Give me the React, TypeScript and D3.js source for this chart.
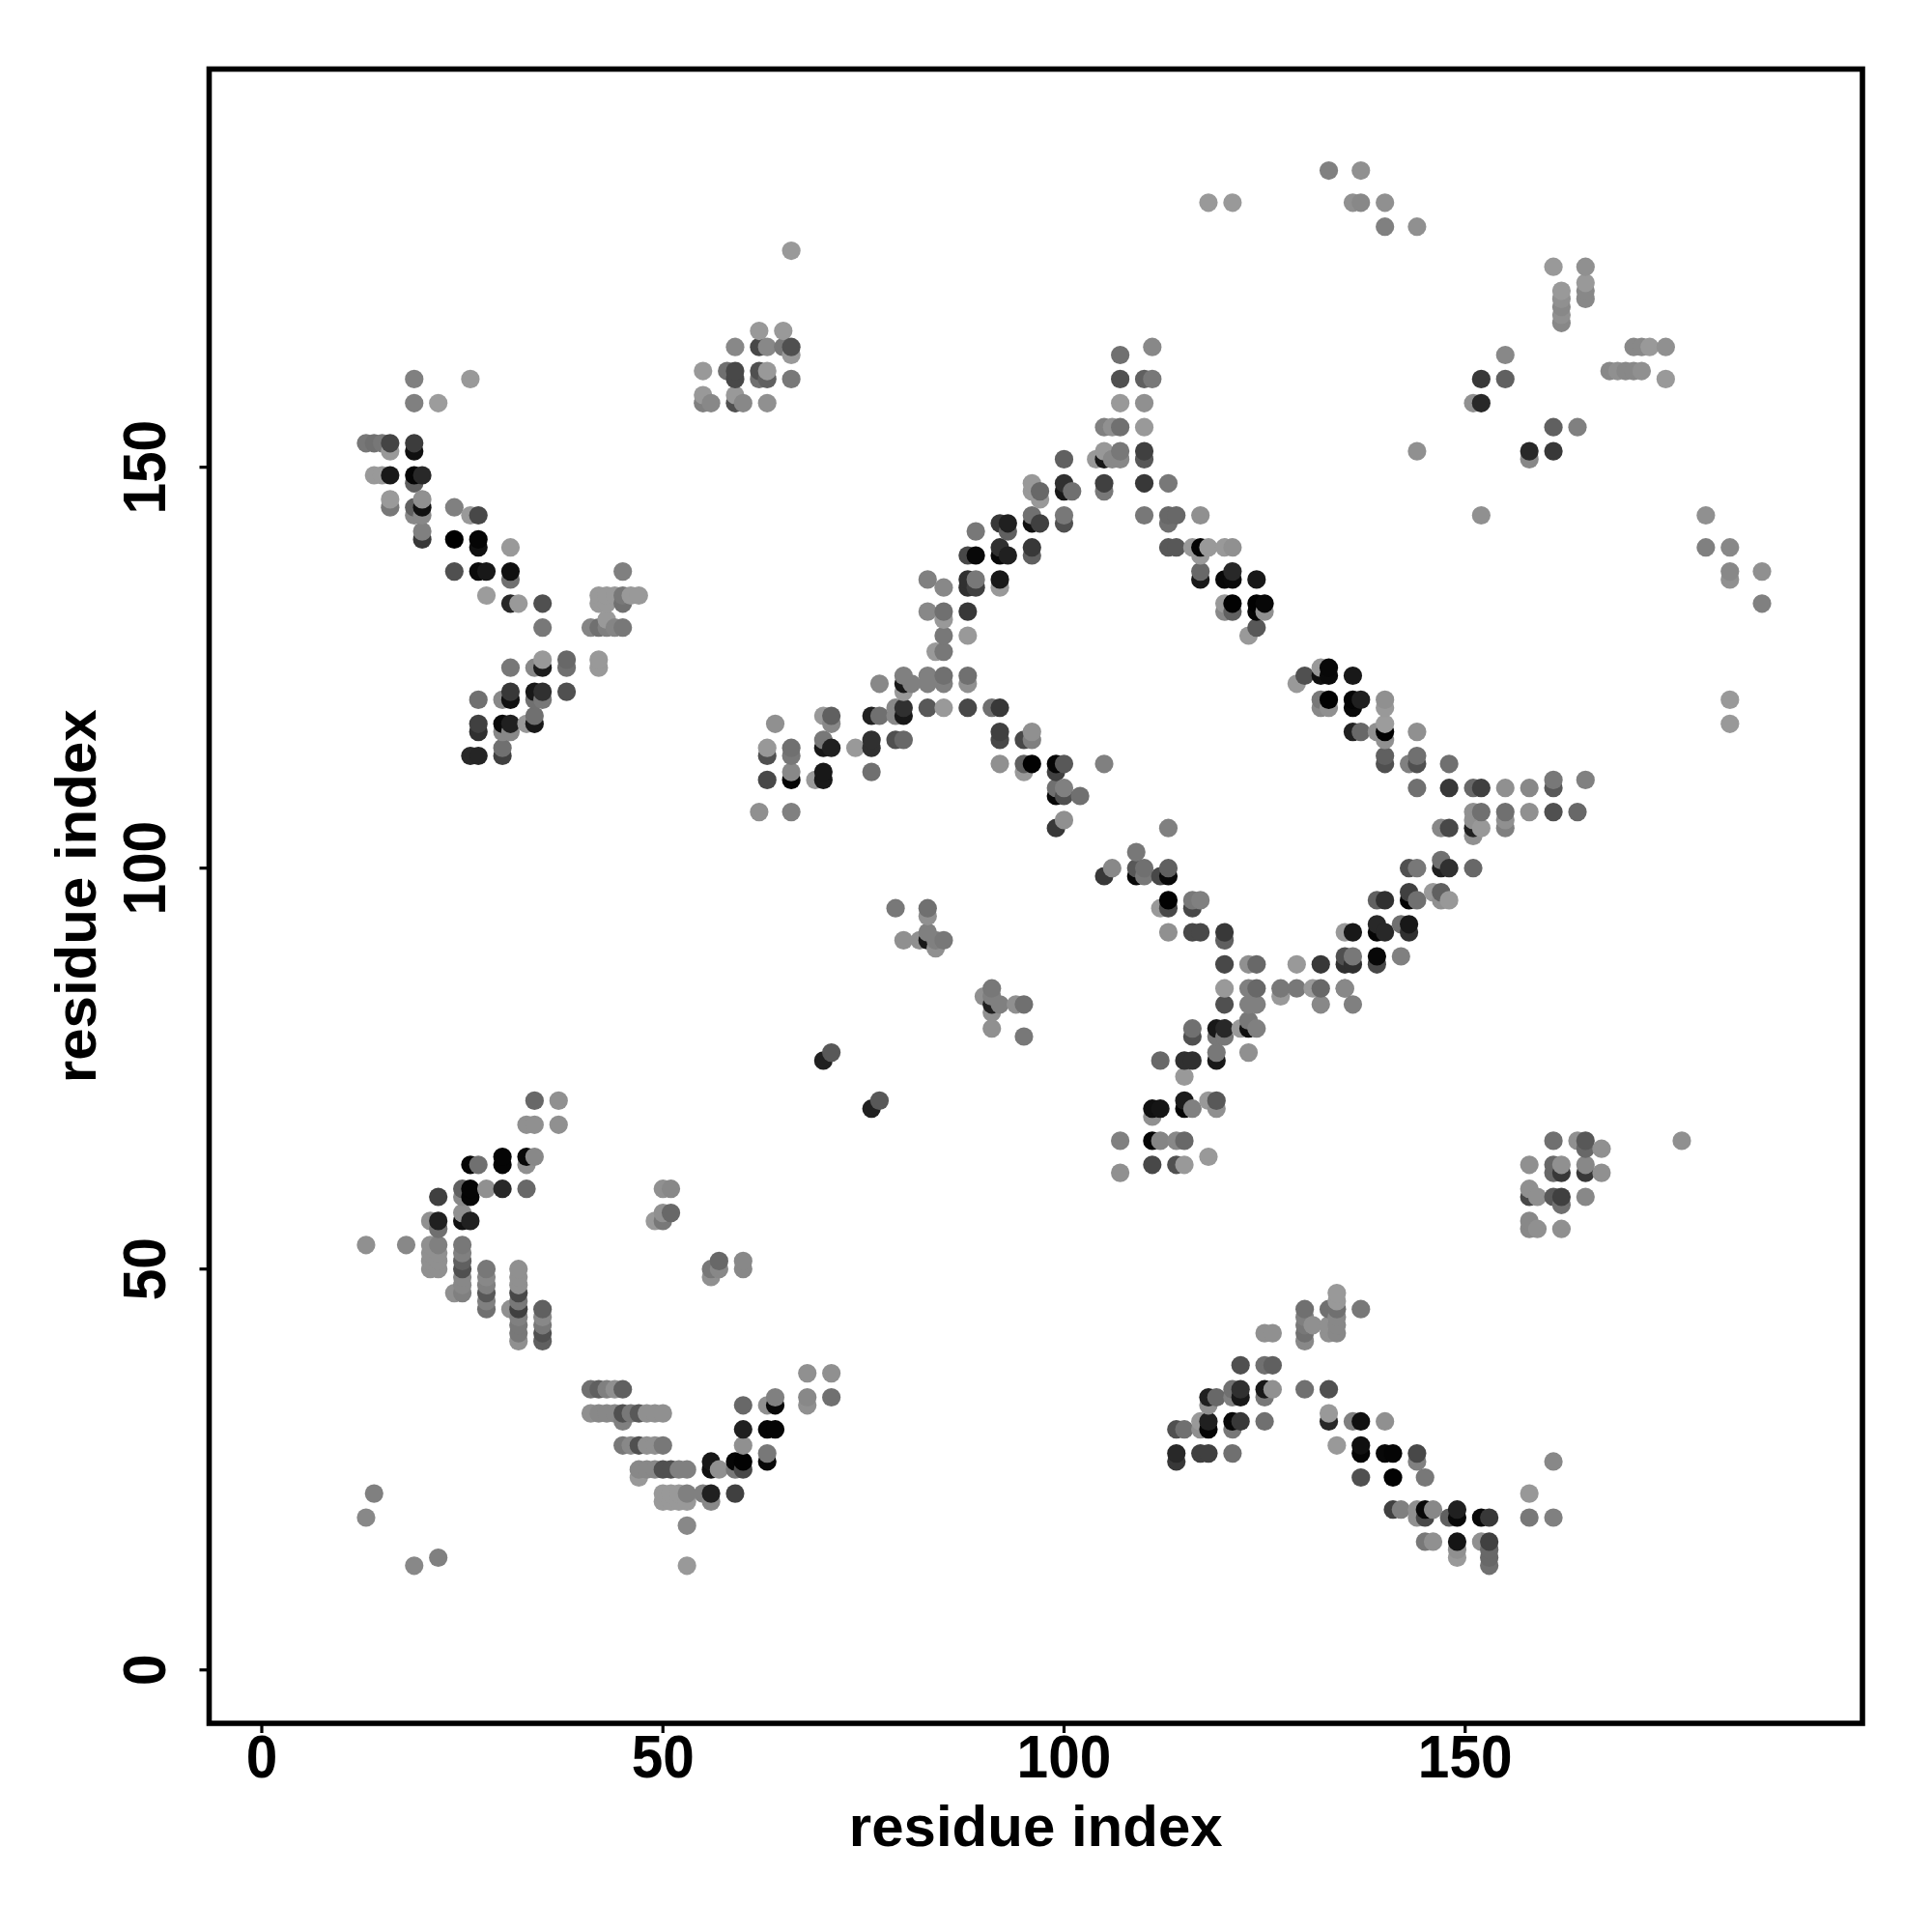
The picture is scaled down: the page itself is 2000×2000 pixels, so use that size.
import React from "react";
import * as d3 from "d3";

type P = [number, number, number]; // residue i, residue j, shade byte

const contactsUpperLeft: P[] = [
  [19,161,0x80],[26,161,0x99],[19,158,0x80],[22,158,0x9c],
  [13,153,0x77],[14,153,0x70],[15,153,0x77],[16,153,0x44],[19,153,0x3c],[16,152,0x99],[19,152,0x10],
  [14,149,0x99],[15,149,0x99],[16,149,0x18],[19,149,0x05],[20,149,0x28],[19,148,0x60],
  [16,146,0x9a],[20,146,0x90],[16,145,0x78],[19,145,0x60],[20,145,0x10],[24,145,0x80],
  [19,144,0x88],[20,144,0x88],[26,144,0x99],[27,144,0x48],[20,142,0x80],[20,141,0x38],[24,141,0x00],[27,141,0x05],[27,140,0x10],[31,140,0x99],
  [24,137,0x50],[27,137,0x0a],[28,137,0x18],[31,137,0x10],[45,137,0x80],[31,136,0x70],
  [28,134,0x9c],[42,134,0x99],[43,134,0x99],[44,134,0x99],[45,134,0x78],[46,134,0x99],[47,134,0x99],
  [31,133,0x28],[32,133,0x99],[35,133,0x50],[42,133,0x99],[43,133,0x99],[45,133,0x70],
  [43,131,0x99],[35,130,0x78],[41,130,0x85],[42,130,0x70],[43,130,0x80],[44,130,0x85],[45,130,0x78],
  [35,126,0x99],[38,126,0x68],[42,126,0x99],[31,125,0x78],[34,125,0x88],[35,125,0x1c],[38,125,0x70],[42,125,0x99],
  [31,122,0x38],[34,122,0x18],[35,122,0x30],[38,122,0x50],
  [27,121,0x70],[30,121,0x88],[31,121,0x10],[34,121,0x70],[35,121,0x78],[34,119,0x70],
  [27,118,0x40],[30,118,0x0a],[31,118,0x20],[33,118,0x99],[34,118,0x18],
  [27,117,0x30],[30,117,0x88],[31,117,0x88],[30,115,0x70],[26,114,0x28],[27,114,0x25],[30,114,0x40],
];

const contactsTopMiddle: P[] = [
  [66,177,0x99],[62,167,0x99],[65,167,0x99],[59,165,0x88],[62,165,0x48],[63,165,0x88],[65,165,0x78],[66,165,0x50],[66,164,0x99],
  [55,162,0x99],[58,162,0x70],[59,162,0x48],[62,162,0x50],[63,162,0x99],[59,161,0x48],[62,161,0x70],[63,161,0x60],[66,161,0x78],
  [55,159,0x99],[59,159,0x99],[55,158,0x80],[56,158,0x88],[59,158,0x50],[60,158,0x88],[63,158,0x90],
];

const contactsCentralLeftArm: P[] = [
  [100,151,0x60],[100,148,0x30],[96,148,0x99],[96,147,0x99],[97,147,0x68],[100,147,0x18],[101,147,0x70],[97,146,0x99],
  [96,144,0x70],[100,144,0x78],[92,143,0x38],[93,143,0x20],[96,143,0x10],[97,143,0x40],[100,143,0x50],[89,142,0x78],[93,142,0x60],
  [92,140,0x30],[96,140,0x38],[88,139,0x48],[89,139,0x08],[92,139,0x08],[93,139,0x20],[96,139,0x60],
  [83,136,0x80],[88,136,0x30],[89,136,0x78],[92,136,0x18],[85,135,0x88],[88,135,0x30],[89,135,0x40],[92,135,0x99],
  [83,132,0x88],[85,132,0x70],[88,132,0x38],[85,131,0x99],[85,129,0x78],[88,129,0x99],[84,127,0x99],[85,127,0x78],
  [80,124,0x80],[83,124,0x80],[85,124,0x70],[88,124,0x70],[77,123,0x88],[80,123,0x18],[81,123,0x80],[83,123,0x80],[85,123,0x80],[88,123,0x90],[80,122,0x99],
  [79,120,0x88],[80,120,0x30],[83,120,0x58],[85,120,0x99],[88,120,0x48],[91,120,0x70],[92,120,0x38],
  [70,119,0x99],[71,119,0x60],[76,119,0x20],[77,119,0x70],[79,119,0x88],[80,119,0x18],[64,118,0x90],[71,118,0x88],
  [92,117,0x40],[96,117,0x90],[70,116,0x78],[76,116,0x30],[79,116,0x50],[80,116,0x68],[92,116,0x48],[95,116,0x48],[96,116,0x80],
  [63,115,0x98],[66,115,0x70],[70,115,0x18],[71,115,0x20],[74,115,0x99],[76,115,0x30],[63,114,0x50],[66,114,0x78],
  [92,113,0x90],[95,113,0x60],[96,113,0x02],[99,113,0x05],[100,113,0x58],[105,113,0x80],
  [66,112,0x88],[70,112,0x18],[76,112,0x70],[95,112,0x99],[99,112,0x40],[63,111,0x48],[66,111,0x05],[69,111,0x99],[70,111,0x18],
  [99,110,0x70],[100,110,0x80],[99,109,0x08],[100,109,0x50],[102,109,0x70],[62,107,0x90],[66,107,0x80],[100,106,0x90],[99,105,0x38],
];

const contactsCentralApex: P[] = [
  [111,165,0x88],[107,164,0x70],[107,161,0x50],[110,161,0x60],[111,161,0x78],[107,158,0x99],[110,158,0x90],
  [105,155,0x80],[106,155,0x90],[107,155,0x70],[110,155,0x99],[105,152,0x98],[107,152,0x78],[110,152,0x40],
  [104,151,0x99],[105,151,0x18],[106,151,0x88],[107,151,0x88],[110,151,0x58],[105,148,0x40],[110,148,0x38],[113,148,0x78],[105,147,0x78],
  [110,144,0x78],[113,144,0x68],[114,144,0x68],[117,144,0x90],[113,143,0x70],
  [113,140,0x58],[114,140,0x58],[116,140,0x99],[117,140,0x05],[118,140,0x99],[120,140,0x99],[121,140,0x90],[117,139,0x99],
  [117,137,0x68],[121,137,0x28],[117,136,0x18],[120,136,0x08],[121,136,0x0a],[124,136,0x18],
  [120,133,0x99],[121,133,0x02],[124,133,0x02],[125,133,0x08],[120,132,0x88],[121,132,0x60],[124,132,0x05],[125,132,0x90],[124,130,0x58],[123,129,0x99],
  [132,125,0x99],[133,125,0x08],[130,124,0x50],[132,124,0x10],[133,124,0x0a],[136,124,0x18],[129,123,0x99],
  [132,121,0x78],[133,121,0x02],[136,121,0x05],[137,121,0x20],[140,121,0x90],[132,120,0x88],[133,120,0x90],[136,120,0x08],[140,120,0x99],
  [140,118,0x9c],[136,117,0x20],[137,117,0x68],[139,117,0x90],[140,117,0x02],[144,117,0x90],[140,116,0x90],
  [140,114,0x60],[144,114,0x70],[140,113,0x50],[143,113,0x80],[144,113,0x50],[148,113,0x70],
];

const contactsTopRight: P[] = [
  [133,187,0x80],[137,187,0x90],[118,183,0x99],[121,183,0x99],[136,183,0x90],[137,183,0x88],[140,183,0x90],[140,180,0x80],[144,180,0x90],
  [161,175,0x99],[165,175,0x90],[165,173,0x99],[165,172,0x88],[165,171,0x88],[162,172,0x99],[162,171,0x90],[162,170,0x88],[162,169,0x90],[162,168,0x88],
  [171,165,0x88],[172,165,0x88],[173,165,0x99],[175,165,0x90],[155,164,0x88],
  [168,162,0x88],[169,162,0x90],[170,162,0x88],[171,162,0x88],[172,162,0x90],[152,161,0x38],[155,161,0x60],[175,161,0x99],
  [151,158,0x90],[152,158,0x28],[161,155,0x60],[164,155,0x80],[144,152,0x90],[158,152,0x28],[161,152,0x38],[158,151,0x88],
  [152,144,0x90],[180,144,0x90],[180,140,0x80],[183,140,0x88],[183,137,0x88],[183,136,0x90],[187,137,0x90],[187,133,0x80],[183,121,0x99],[183,118,0x99],
];

const contactsRightBranch: P[] = [
  [144,110,0x70],[148,110,0x38],[151,110,0x68],[152,110,0x40],[155,110,0x90],[158,110,0x88],[161,110,0x58],[161,111,0x78],[165,111,0x80],
  [151,107,0x90],[152,107,0x70],[155,107,0x70],[158,107,0x90],[161,107,0x50],[164,107,0x68],[151,106,0x90],[155,106,0x90],
  [147,105,0x88],[148,105,0x48],[151,105,0x20],[152,105,0x98],[155,105,0x80],[151,104,0x90],
  [147,101,0x70],[143,100,0x50],[144,100,0x78],[147,100,0x20],[148,100,0x30],[151,100,0x68],
  [143,97,0x40],[146,97,0x99],[147,97,0x60],[139,96,0x60],[140,96,0x30],[143,96,0x05],[144,96,0x70],[147,96,0x90],[148,96,0x98],
  [139,93,0x28],[142,93,0x70],[143,93,0x18],[135,92,0x99],[136,92,0x18],[139,92,0x05],[140,92,0x28],[143,92,0x30],
  [135,89,0x50],[136,89,0x78],[139,89,0x08],[142,89,0x80],[135,88,0x30],[136,88,0x30],[139,88,0x48],[135,85,0x88],[136,83,0x80],
];

const contactsLowerCentre: P[] = [
  [113,105,0x80],[109,102,0x78],[106,100,0x88],[105,99,0x38],[109,100,0x58],[110,100,0x70],[109,99,0x08],[110,99,0x78],[112,99,0x48],[113,100,0x60],[113,99,0x08],
  [113,96,0x02],[112,95,0x99],[113,95,0x48],[116,96,0x78],[117,96,0x80],[116,95,0x48],
  [113,92,0x90],[116,92,0x48],[117,92,0x48],[120,92,0x38],[120,91,0x60],
  [120,88,0x48],[123,88,0x90],[124,88,0x68],[129,88,0x99],[132,88,0x38],
  [120,85,0x99],[123,85,0x80],[124,85,0x68],[127,85,0x78],[129,85,0x78],[131,85,0x99],[132,85,0x68],[135,85,0x88],[127,84,0x99],
  [120,83,0x50],[123,83,0x80],[124,83,0x80],[132,83,0x88],[123,81,0x78],
  [116,80,0x70],[119,80,0x18],[120,80,0x28],[122,80,0x99],[123,80,0x10],[124,80,0x80],[116,79,0x50],[119,79,0x78],[120,79,0x78],
  [119,77,0x78],[123,77,0x90],[112,76,0x68],[115,76,0x30],[116,76,0x30],[119,76,0x18],[115,74,0x99],
  [115,71,0x1c],[118,71,0x99],[119,71,0x58],[111,70,0x10],[112,70,0x15],[115,70,0x05],[116,70,0x80],[119,70,0x90],[111,69,0x90],
  [107,66,0x80],[111,66,0x05],[112,66,0x85],[114,66,0x88],[115,66,0x68],[118,64,0x99],[111,63,0x48],[114,63,0x50],[115,63,0x99],[107,62,0x90],
];

const contactsMiddleIslands: P[] = [
  [79,95,0x78],[83,95,0x70],[83,94,0x90],[83,92,0x80],[80,91,0x90],[82,91,0x90],[83,91,0x18],[84,91,0x80],[85,91,0x78],[84,90,0x90],
  [90,84,0x90],[91,85,0x78],[91,84,0x80],[91,83,0x20],[91,82,0x90],[92,83,0x80],[94,83,0x90],[95,83,0x70],[91,80,0x90],[95,79,0x78],
  [70,76,0x20],[71,77,0x58],[76,70,0x20],[77,71,0x58],
];

const contactsRightIsland: P[] = [
  [161,66,0x70],[164,66,0x90],[165,66,0x58],[165,65,0x68],[167,65,0x90],
  [158,63,0x90],[161,63,0x68],[162,63,0x90],[165,63,0x88],[161,62,0x68],[162,62,0x38],[165,62,0x38],[167,62,0x90],
  [158,60,0x90],[158,59,0x48],[159,59,0x90],[161,59,0x58],[162,59,0x40],[165,59,0x88],[162,58,0x70],
  [158,56,0x88],[158,55,0x88],[159,55,0x90],[162,55,0x90],
  [177,66,0x90],
];

const contactsLowerLeftUpper: P[] = [
  [34,71,0x68],[37,71,0x90],[33,68,0x90],[34,68,0x90],[37,68,0x90],
  [30,64,0x05],[33,64,0x08],[34,64,0x88],[26,63,0x05],[27,63,0x70],[30,63,0x05],[33,63,0x90],
  [25,60,0x60],[26,60,0x05],[28,60,0x90],[30,60,0x28],[33,60,0x68],[22,59,0x40],[25,59,0x88],[26,59,0x05],[25,57,0x90],
  [21,56,0x90],[22,56,0x20],[25,56,0x10],[26,56,0x20],[22,55,0x70],
  [13,53,0x90],[18,53,0x88],[21,53,0x90],[22,53,0x80],[25,53,0x78],[21,52,0x90],[22,52,0x90],[25,52,0x80],[21,51,0x90],[22,51,0x90],[25,51,0x60],[21,50,0x90],[22,50,0x90],[25,50,0x50],
  [25,49,0x88],[25,48,0x88],[25,47,0x80],[24,47,0x90],
  [28,50,0x78],[28,49,0x88],[28,48,0x80],[28,47,0x58],[28,46,0x80],[28,45,0x70],
  [32,50,0x90],[32,49,0x90],[32,48,0x90],[32,47,0x48],[32,46,0x78],[32,45,0x40],[32,44,0x80],[32,43,0x78],[32,42,0x78],[32,41,0x90],[31,45,0x90],
  [35,45,0x60],[35,44,0x88],[35,43,0x78],[35,42,0x50],[35,41,0x60],
  [50,60,0x90],[51,60,0x88],[50,57,0x90],[51,57,0x68],[49,56,0x99],[50,56,0x78],
  [57,51,0x68],[60,51,0x88],[56,50,0x78],[57,50,0x88],[60,50,0x88],[56,49,0x90],
];

const contactsLowerLeftBase: P[] = [
  [68,37,0x90],[71,37,0x90],[68,34,0x88],[68,33,0x90],[71,34,0x70],
  [41,35,0x70],[42,35,0x60],[43,35,0x80],[44,35,0x90],[45,35,0x60],
  [64,34,0x80],[60,33,0x68],[63,33,0x90],[64,33,0x08],
  [41,32,0x90],[42,32,0x88],[43,32,0x88],[44,32,0x88],[45,32,0x50],[46,32,0x78],[47,32,0x58],[48,32,0x90],[49,32,0x90],[50,32,0x90],[45,31,0x80],
  [60,30,0x20],[63,30,0x05],[64,30,0x05],
  [45,28,0x78],[46,28,0x88],[47,28,0x50],[48,28,0x90],[49,28,0x90],[50,28,0x78],[60,28,0x90],[63,27,0x78],
  [56,26,0x18],[59,26,0x05],[60,26,0x02],[63,26,0x08],
  [47,25,0x88],[48,25,0x88],[49,25,0x88],[50,25,0x50],[51,25,0x50],[52,25,0x80],[53,25,0x80],[56,25,0x10],[57,25,0x90],[59,25,0x78],[60,25,0x48],[47,24,0x99],
  [50,22,0x99],[51,22,0x99],[52,22,0x99],[53,22,0x80],[55,22,0x80],[56,22,0x20],[59,22,0x40],
  [50,21,0x99],[51,21,0x99],[52,21,0x99],[53,21,0x99],[56,21,0x88],[53,18,0x88],[53,13,0x99],
  [14,22,0x80],[13,19,0x88],[22,14,0x80],[19,13,0x88],
];

const contactsLowerRight: P[] = [
  [134,47,0x99],[134,46,0x99],[130,45,0x70],[133,45,0x70],[134,45,0x70],[137,45,0x78],[130,44,0x80],[134,44,0x88],
  [130,43,0x78],[131,43,0x90],[133,43,0x90],[134,43,0x88],[125,42,0x90],[126,42,0x90],[130,42,0x70],[133,42,0x90],[134,42,0x88],[130,41,0x88],
  [122,38,0x50],[125,38,0x70],[126,38,0x60],
  [121,35,0x70],[122,35,0x30],[125,35,0x18],[126,35,0x90],[130,35,0x70],[133,35,0x50],
  [118,34,0x20],[119,34,0x68],[121,34,0x80],[122,34,0x18],[125,34,0x78],[118,33,0x90],[133,32,0x99],
  [117,31,0x99],[118,31,0x20],[121,31,0x08],[122,31,0x38],[125,31,0x70],[133,31,0x28],[136,31,0x80],[137,31,0x10],[140,31,0x90],
  [114,30,0x50],[115,30,0x70],[117,30,0x90],[118,30,0x05],[121,30,0x78],
  [134,28,0x99],[137,28,0x10],[114,27,0x28],[117,27,0x40],[118,27,0x40],[121,27,0x70],[137,27,0x05],[140,27,0x08],[141,27,0x05],[144,27,0x48],
  [114,26,0x38],[144,26,0x80],[161,26,0x88],[137,24,0x50],[141,24,0x02],[145,24,0x78],[158,22,0x98],
  [141,20,0x40],[142,20,0x80],[144,20,0x90],[145,20,0x08],[146,20,0x88],[149,20,0x20],
  [144,19,0x90],[145,19,0x48],[148,19,0x60],[149,19,0x08],[152,19,0x08],[153,19,0x38],[158,19,0x78],[161,19,0x80],
  [145,16,0x78],[146,16,0x90],[149,16,0x15],[152,16,0x90],[153,16,0x40],[149,15,0x90],[153,15,0x68],[149,14,0x99],[153,14,0x68],[153,13,0x70],
];

const xTicks = [0, 50, 100, 150];
const yTicks = [0, 50, 100, 150];
const axisLabel = "residue index";

const points: P[] = [
  ...contactsUpperLeft, ...contactsTopMiddle, ...contactsCentralLeftArm, ...contactsCentralApex,
  ...contactsTopRight, ...contactsRightBranch, ...contactsLowerCentre, ...contactsMiddleIslands,
  ...contactsRightIsland, ...contactsLowerLeftUpper, ...contactsLowerLeftBase, ...contactsLowerRight,
].sort((a, b) => d3.ascending(a[0], b[0]) || d3.ascending(a[1], b[1]));

const L = 216.5, R = 1928, T = 71.5, B = 1784;
const x = d3.scaleLinear().domain([-6.56, 199.52]).range([L, R]);
const y = d3.scaleLinear().domain([-6.66, 199.66]).range([B, T]);
const shade = d3.scaleLinear<string>().domain([0, 255]).range(["#000000", "#ffffff"]);

const font = "'Liberation Sans', Arial, sans-serif";

export default function App() {
  return (
    <svg width={2000} height={2000} style={{ position: "absolute", left: 0, top: 0, background: "#fff" }} fontFamily={font} fontWeight="bold" fill="#000">
      <g>
        {points.map((p, i) => (
          <circle key={i} cx={x(p[0])} cy={y(p[1])} r={9.6} fill={shade(p[2])} />
        ))}
      </g>
      <rect x={L} y={T} width={R - L} height={B - T} fill="none" stroke="#000" strokeWidth={5.6} />
      {xTicks.map((t) => (
        <g key={t}>
          <line x1={x(t)} x2={x(t)} y1={B + 2} y2={B + 10} stroke="#000" strokeWidth={3.2} />
          <text transform={`translate(${x(t)},1839.5) scale(0.93,1)`} textAnchor="middle" fontSize={63}>{t}</text>
        </g>
      ))}
      {yTicks.map((t) => (
        <g key={t}>
          <line x1={L - 2} x2={L - 10} y1={y(t)} y2={y(t)} stroke="#000" strokeWidth={3.2} />
          <text transform={`translate(171,${y(t)}) rotate(-90) scale(0.93,1)`} textAnchor="middle" fontSize={63}>{t}</text>
        </g>
      ))}
      <text x={(L + R) / 2} y={1911} textAnchor="middle" fontSize={60}>{axisLabel}</text>
      <text transform={`translate(99,${(T + B) / 2}) rotate(-90)`} textAnchor="middle" fontSize={60}>{axisLabel}</text>
    </svg>
  );
}
